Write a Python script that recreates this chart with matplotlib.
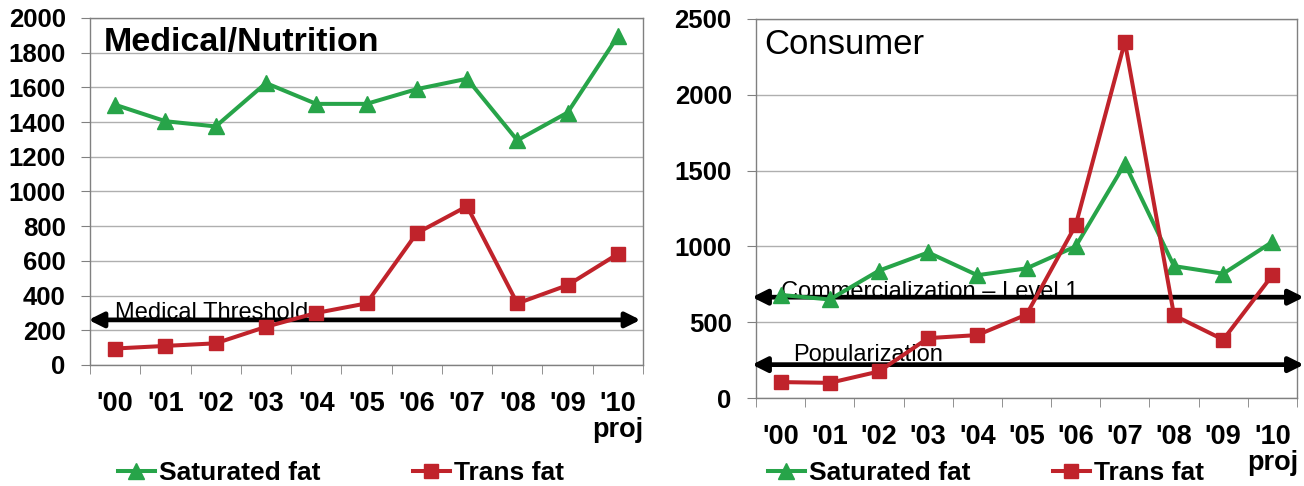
import matplotlib
matplotlib.use('Agg')
import matplotlib.pyplot as plt
from matplotlib.lines import Line2D

plt.rcParams['font.family'] = ['Liberation Sans', 'DejaVu Sans']

years = ["'00", "'01", "'02", "'03", "'04", "'05", "'06", "'07", "'08", "'09", "'10\nproj"]

# Medical/Nutrition panel
med_sat = [1500, 1405, 1375, 1625, 1505, 1505, 1590, 1650, 1295, 1455, 1895]
med_trans = [95, 110, 125, 220, 300, 355, 760, 915, 355, 460, 640]
med_threshold = 260

# Consumer panel
con_sat = [680, 650, 840, 960, 810, 855, 1000, 1545, 870, 820, 1030]
con_trans = [105, 100, 175, 395, 415, 550, 1140, 2350, 545, 385, 810]
con_commercial = 665
con_popular = 220

GREEN = '#27A449'
RED = '#C0232B'
GRID = '#AFAFAF'
W, H = 1304, 486

fig = plt.figure(figsize=(W / 100, H / 100), dpi=100)


def px_axes(x0, x1, y0, y1):
    return fig.add_axes([x0 / W, 1 - y1 / H, (x1 - x0) / W, (y1 - y0) / H])


def style_axes(ax, ymax, ystep):
    n = len(years)
    ax.set_xlim(-0.5, n - 0.5)
    ax.set_ylim(0, ymax)
    ax.set_yticks(range(0, ymax + 1, ystep))
    ax.set_xticks(range(n))
    ax.set_xticklabels(years, fontsize=19.5, fontweight='bold', linespacing=1.0)
    ax.set_xticks([i - 0.5 for i in range(n + 1)], minor=True)
    ax.tick_params(axis='x', which='major', length=0, pad=19)
    ax.tick_params(axis='x', which='minor', length=6.5, color='#808080', direction='out')
    ax.tick_params(axis='y', length=6.5, color='#808080', pad=11)
    for lab in ax.get_yticklabels():
        lab.set_fontsize(18.5)
        lab.set_fontweight('bold')
    ax.yaxis.grid(True, color=GRID, lw=1)
    ax.set_axisbelow(True)
    for s in ax.spines.values():
        s.set_color('#808080')
        s.set_linewidth(1)


def arrow(ax, y, x0, x1):
    ax.annotate('', xy=(x1, y), xytext=(x0, y), xycoords='data',
                annotation_clip=False, zorder=3,
                arrowprops=dict(arrowstyle='<|-|>', color='black', lw=3.4,
                                mutation_scale=22, shrinkA=0, shrinkB=0))


def plot_series(ax, sat, trans):
    x = range(len(years))
    ax.plot(x, sat, color=GREEN, lw=2.9, marker='^', ms=11, zorder=4, clip_on=False)
    ax.plot(x, trans, color=RED, lw=2.9, marker='s', ms=10, zorder=4, clip_on=False)


# left panel
ax1 = px_axes(90, 643, 18, 365)
style_axes(ax1, 2000, 200)
ax1.text(0.0, med_threshold + 8, 'Medical Threshold', fontsize=17, zorder=2)
arrow(ax1, med_threshold, -0.53, 10.45)
plot_series(ax1, med_sat, med_trans)
ax1.text(0.025, 0.975, 'Medical/Nutrition', transform=ax1.transAxes, fontsize=24.5,
         fontweight='bold', ha='left', va='top')

# right panel
ax2 = px_axes(756, 1297, 19, 398)
style_axes(ax2, 2500, 500)
ax2.text(0.0, con_commercial - 5, 'Commercialization \u2013 Level 1', fontsize=17, zorder=2)
ax2.text(0.25, con_popular + 25, 'Popularization', fontsize=17, zorder=2)
arrow(ax2, con_commercial, -0.58, 10.64)
arrow(ax2, con_popular, -0.58, 10.64)
plot_series(ax2, con_sat, con_trans)
ax2.text(0.015, 0.975, 'Consumer', transform=ax2.transAxes, fontsize=25,
         ha='left', va='top')

# legends, one entry each so they can sit where wanted
sat_handle = Line2D([], [], color=GREEN, lw=2.9, marker='^', ms=11)
trans_handle = Line2D([], [], color=RED, lw=2.9, marker='s', ms=10)
for hx, handle, label in [(118, sat_handle, 'Saturated fat'), (413, trans_handle, 'Trans fat'),
                          (768, sat_handle, 'Saturated fat'), (1053, trans_handle, 'Trans fat')]:
    leg = fig.legend([handle], [label], loc='center left', bbox_to_anchor=(hx / W, 1 - 473 / H),
                     frameon=False, borderpad=0, borderaxespad=0, handlelength=1.4,
                     handletextpad=0.15, prop=dict(size=19, weight='bold'))

fig.savefig('out.png', dpi=100)
